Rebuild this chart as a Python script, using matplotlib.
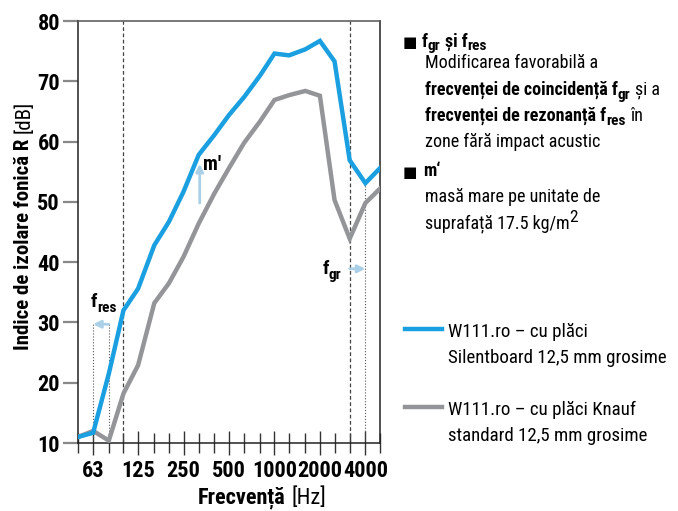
import matplotlib
matplotlib.use("Agg")
import matplotlib.pyplot as plt
from matplotlib import font_manager
from matplotlib.ticker import FixedLocator, NullFormatter

# font ingust (condensed) daca exista
prefs = ['Liberation Sans Narrow', 'Arial Narrow', 'Roboto Condensed', 'Archivo Narrow',
         'PT Sans Narrow', 'Asap Condensed', 'Sofia Sans Condensed', 'Liberation Sans']
fonts = {}
for f in font_manager.fontManager.ttflist:
    fonts.setdefault(f.name, set()).add(f.weight if isinstance(f.weight, int) else 400)
FONT = next((n for n in prefs if n in fonts and max(fonts[n]) >= 700), 'DejaVu Sans')
plt.rcParams['font.family'] = [FONT, 'DejaVu Sans']

# benzi de 1/3 octava (Hz)
freq = [50, 63, 80, 100, 125, 160, 200, 250, 315, 400, 500, 630, 800,
        1000, 1250, 1600, 2000, 2500, 3150, 4000, 5000]
silentboard = [11.0, 11.7, 21.5, 32.0, 35.6, 42.8, 46.7, 51.7, 57.8, 61.1, 64.4,
               67.4, 70.9, 74.6, 74.3, 75.3, 76.7, 73.3, 56.9, 53.1, 55.6]
knauf = [11.0, 12.0, 10.4, 18.2, 22.9, 33.2, 36.5, 40.9, 46.4, 51.4, 55.6,
         59.8, 63.3, 66.9, 67.7, 68.4, 67.6, 50.3, 43.9, 49.8, 52.2]
octave_ticks = [63, 125, 250, 500, 1000, 2000, 4000]
octave_labels = ['63', '125', '250', '500', '1000', '2000', '4000']
y_ticks = [10, 20, 30, 40, 50, 60, 70, 80]

BLUE = '#1a9fe0'
GRAY = '#939598'
ARROW = '#a9d0e6'

W, H = 678, 511
fig = plt.figure(figsize=(W / 100, H / 100), dpi=100)
ax = fig.add_axes([78 / W, 1 - 443 / H, (380 - 78) / W, (443 - 21) / H])


def rich(x, y, parts, coords='fig', rotation=0):
    # parts: (text, weight, size, dy in points, gap before in points)
    s, w, fs, dy, _ = parts[0]
    tr = fig.transFigure if coords == 'fig' else ax.transData
    if coords == 'fig':
        x, y = x / W, 1 - y / H
    t = ax.text(x, y, s, fontweight=w, fontsize=fs, va='baseline', ha='left',
                rotation=rotation, rotation_mode='anchor', transform=tr)
    prev = dy
    for s, w, fs, dy, gap in parts[1:]:
        if rotation == 90:
            t = ax.annotate(s, xy=(0, 1), xycoords=t, xytext=(0, gap),
                            textcoords='offset points', fontweight=w, fontsize=fs,
                            ha='left', va='bottom', rotation=90,
                            annotation_clip=False)
        else:
            t = ax.annotate(s, xy=(1, 0), xycoords=t, xytext=(gap, dy - prev),
                            textcoords='offset points', fontweight=w, fontsize=fs,
                            ha='left', va='bottom', annotation_clip=False)
        prev = dy
    return t


ax.plot(freq, knauf, color=GRAY, lw=3.2, solid_joinstyle='miter', zorder=3)
ax.plot(freq, silentboard, color=BLUE, lw=3.2, solid_joinstyle='miter', zorder=4)

# linii de referinta
for f in [100, 3150]:
    ax.axvline(f, color='#444444', lw=0.9, ls=(0, (3, 2)), zorder=2)
ax.plot([63, 63], [10, 29.7], color='#555555', lw=0.8, ls=':', zorder=2)
ax.plot([80, 80], [10, 29.7], color='#555555', lw=0.8, ls=':', zorder=2)
ax.plot([4000, 4000], [10, 52.8], color='#555555', lw=0.8, ls=':', zorder=2)

arrow = dict(arrowstyle='-|>', color=ARROW, lw=2, mutation_scale=11, shrinkA=0, shrinkB=0)
ax.annotate('', xy=(63, 29.7), xytext=(80, 29.7), arrowprops=arrow)
ax.annotate('', xy=(4000, 38.9), xytext=(3150, 38.9), arrowprops=arrow)
ax.annotate('', xy=(320, 56.3), xytext=(320, 49.8), arrowprops=arrow)

ax.text(338, 55.3, "m'", fontsize=14.5, fontweight='bold', va='baseline')
rich(61, 32.6, [('f', 'bold', 14, 0, 0), ('res', 'bold', 11, -3, 0)], coords='data')
rich(2080, 38.0, [('f', 'bold', 14, 0, 0), ('gr', 'bold', 11, -3, 0)], coords='data')

ax.set_xscale('log')
ax.set_xlim(50, 5000)
ax.set_ylim(10, 80)
ax.xaxis.set_major_locator(FixedLocator(octave_ticks))
ax.xaxis.set_minor_locator(FixedLocator([f for f in freq if f not in octave_ticks]))
ax.xaxis.set_minor_formatter(NullFormatter())
ax.set_xticklabels(octave_labels)
ax.set_yticks(y_ticks)
ax.tick_params(axis='x', which='major', direction='inout', length=17, width=1,
               color='#333333', labelsize=16, pad=4)
ax.tick_params(axis='x', which='minor', direction='inout', length=14, width=1,
               color='#333333')
ax.tick_params(axis='y', direction='out', length=11, width=1.6, color='#888888',
               labelsize=16, pad=2)
for lab in ax.get_xticklabels() + ax.get_yticklabels():
    lab.set_fontweight('bold')
for sp in ax.spines.values():
    sp.set_linewidth(1.1)
    sp.set_color('#222222')
ax.spines['top'].set_color('#555555')

# titluri axe
rich(198, 503, [('Frecvență', 'bold', 16, 0, 0), ('[Hz]', 'normal', 16, 0, 4)])
rich(29, 350, [('Indice de izolare fonică R', 'bold', 15, 0, 0),
               ('[dB]', 'normal', 15, 0, 4)], rotation=90)

# text explicativ
fs = 13
sub = 11
fig.text(403 / W, 1 - 47 / H, '■', fontsize=11, va='baseline', family='DejaVu Sans')
rich(422, 46.7, [('f', 'bold', fs, 0, 0), ('gr', 'bold', sub, -2, 0),
                 ('și f', 'bold', fs, 0, 3.0), ('res', 'bold', sub, -2, 0)])
rich(425, 68.3, [('Modificarea favorabilă a', 'normal', fs, 0, 0)])
rich(425, 95, [('frecvenței de coincidență f', 'bold', fs, 0, 0), ('gr', 'bold', sub, -2, 0),
               ('și a', 'normal', fs, 0, 3.0)])
rich(425, 121, [('frecvenței de rezonanță f', 'bold', fs, 0, 0), ('res', 'bold', sub, -2, 0),
                ('în', 'normal', fs, 0, 3.0)])
rich(425, 146.7, [('zone fără impact acustic', 'normal', fs, 0, 0)])
fig.text(403 / W, 1 - 177 / H, '■', fontsize=11, va='baseline', family='DejaVu Sans')
fig.text(423 / W, 1 - 176 / H, 'm‘', fontsize=fs, fontweight='bold', va='baseline')
rich(425, 201.7, [('masă mare pe unitate de', 'normal', fs, 0, 0)])
rich(425, 228.3, [('suprafață 17.5 kg/m', 'normal', fs, 0, 0), ('2', 'normal', 12.5, 6, 0)])

# legenda
for yl, col, l1, l2 in [(329, BLUE, 'W111.ro – cu plăci', 'Silentboard 12,5 mm grosime'),
                        (407, GRAY, 'W111.ro – cu plăci Knauf', 'standard 12,5 mm grosime')]:
    fig.add_artist(plt.Line2D([405 / W, 442 / W], [1 - yl / H, 1 - yl / H], color=col, lw=3.2))
    fig.text(448 / W, 1 - (yl + 7.5) / H, l1, fontsize=13.6, va='baseline')
    fig.text(448 / W, 1 - (yl + 34) / H, l2, fontsize=13.6, va='baseline')

fig.savefig('out.png', dpi=100)
